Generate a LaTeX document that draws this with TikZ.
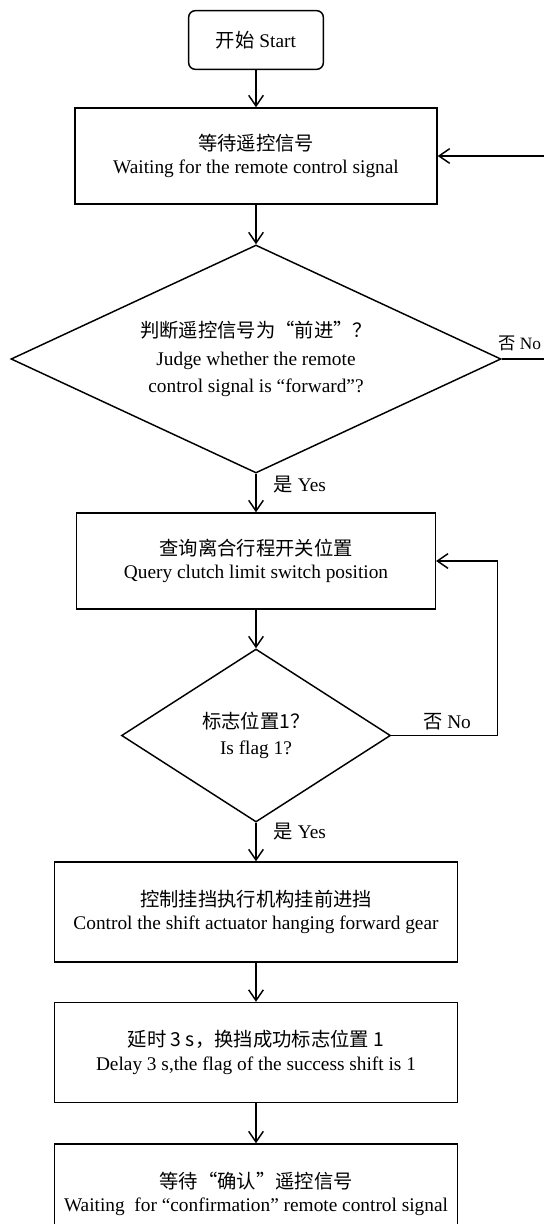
\documentclass[tikz,border=0pt]{standalone}
\usepackage{fontspec}
\setmainfont{Liberation Serif}
\newfontfamily\zhfont{Noto Sans CJK SC}
\usetikzlibrary{arrows.meta,shapes.geometric}

\begin{document}
\begin{tikzpicture}[x=0.75pt, y=-0.75pt,
  box/.style={draw, line width=1.1pt, minimum width=302pt, minimum height=75pt, align=center, font=\fontsize{14.5}{17.5}\selectfont},
  decide/.style={draw, diamond, line width=1.1pt, inner sep=0pt, align=center, font=\fontsize{14.5}{20.5}\selectfont},
  lbl/.style={font=\fontsize{14.5}{16}\selectfont, inner sep=1pt},
  arr/.style={-{Straight Barb[length=8pt,width=11pt]}, line width=1.1pt}
]
\useasboundingbox (0,0) rectangle (543,1224);
\node[box, rounded corners=5pt, minimum width=101pt, minimum height=44pt] (start) at (256,40) {{\zhfont 开始} Start};
\node[box, minimum width=271.5pt, minimum height=72pt] (wait) at (256,156) {{\zhfont 等待遥控信号}\\Waiting for the remote control signal};
\node[decide, shape aspect=2.15, minimum width=367.5pt, minimum height=171pt] (judge) at (256,359) {{\zhfont 判断遥控信号为“前进”？}\\Judge whether the remote\\control signal is “forward”?};
\node[box, minimum width=269pt, minimum height=72pt] (query) at (256,561) {{\zhfont 查询离合行程开关位置}\\Query clutch limit switch position};
\node[decide, shape aspect=1.55, minimum width=201.75pt, minimum height=129.75pt, font=\fontsize{14.5}{19}\selectfont] (flag) at (256,735.5) {{\zhfont 标志位置1？}\\Is flag 1?};
\node[box] (gear) at (256,912) {{\zhfont 控制挂挡执行机构挂前进挡}\\Control the shift actuator hanging forward gear};
\node[box] (delay) at (256,1052.5) {{\zhfont 延时 3 s，换挡成功标志位置 1}\\Delay 3 s,the flag of the success shift is 1};
\node[box] (confirm) at (256,1194) {{\zhfont 等待“确认”遥控信号}\\Waiting\ \ for “confirmation” remote control signal};
% branch labels
\node[lbl, anchor=west, font=\fontsize{13}{15}\selectfont, inner sep=0pt] (noA) at (498,343) {{\zhfont 否} No};
\node[lbl, anchor=west] (yesA) at (272,485) {{\zhfont 是} Yes};
\node[lbl] (noB) at (447,722) {{\zhfont 否} No};
\node[lbl, anchor=west] (yesB) at (272,832) {{\zhfont 是} Yes};
\draw[arr] (start) -- (wait);
\draw[arr] (wait) -- (judge);
\draw[arr] (judge) -- (query);
\draw[arr] (query) -- (flag);
\draw[arr] (flag) -- (gear);
\draw[arr] (gear) -- (delay);
\draw[arr] (delay) -- (confirm);
\draw[arr] (judge.east) -- ++(50,0) |- (wait.east);
\draw[arr] (flag.east) -- ++(106.5,0) |- (query.east);
\end{tikzpicture}
\end{document}
